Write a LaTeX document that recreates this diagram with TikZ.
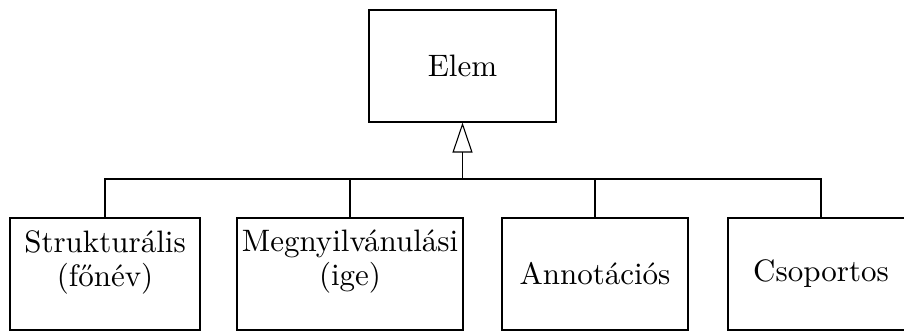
\documentclass[tikz,border=0pt]{standalone}
\usepackage{fontspec}
\setmainfont{lmroman10-regular}[Extension=.otf]
\usetikzlibrary{arrows.meta}
\begin{document}
\begin{tikzpicture}[x=1pt,y=-1pt,
  box/.style={draw, line width=1.1pt, minimum height=112pt, inner xsep=0pt,
    align=center, font=\fontsize{31}{33}\selectfont},
  txt/.style={inner sep=0pt, align=center, font=\fontsize{31}{34}\selectfont},
  link/.style={line width=1.1pt},
  gen/.style={link, -{Triangle[open, length=30pt, width=20pt, line width=1.1pt]}}]
  \useasboundingbox (0,0) rectangle (904,331);
  \clip (0,0) rectangle (904,331);
  % base class
  \node[box, minimum width=187pt] (el) at (462.5,66) {Elem};
  % subclasses
  \node[box, minimum width=190pt] (s1) at (105,274) {};
  \node[txt] (s1t) at (105,262) {Strukturális\\(főnév)};
  \node[box, minimum width=226pt] (s2) at (350,274) {};
  \node[txt] (s2t) at (350,262) {Megnyilvánulási\\(ige)};
  \node[box, minimum width=186pt] (s3) at (595,274) {Annotációs};
  \node[box, minimum width=186pt] (s4) at (821,274) {Csoportos};
  % generalization tree
  \coordinate (hub) at (462.5,179);
  \draw[link] (s1.north) |- (hub);
  \draw[link] (s2.north) |- (hub);
  \draw[link] (s3.north) |- (hub);
  \draw[link] (s4.north) |- (hub);
  \draw[gen] (hub) -- (el.south);
\end{tikzpicture}
\end{document}
